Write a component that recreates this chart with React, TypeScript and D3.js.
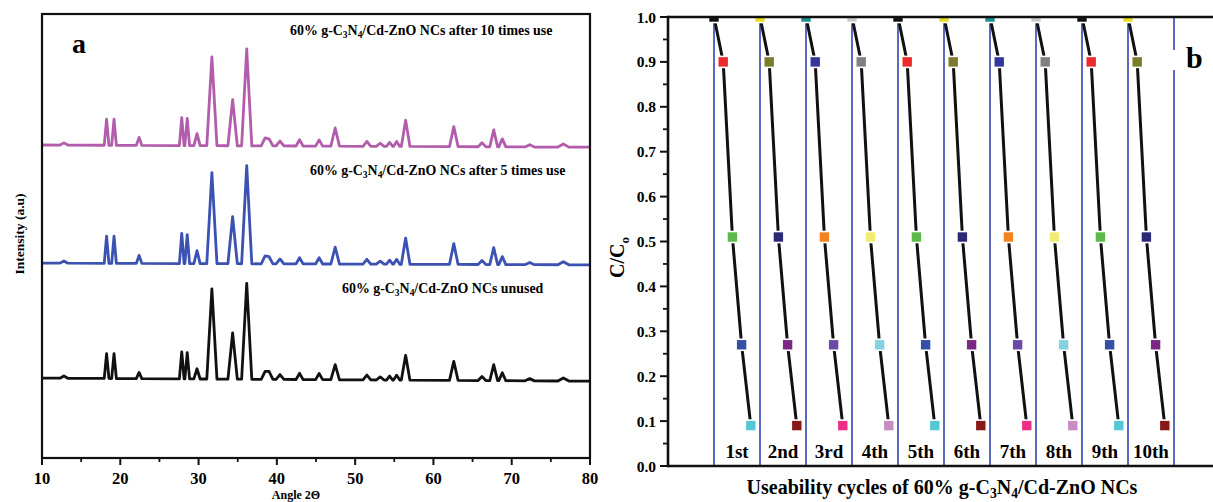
import React from "react";
import * as d3 from "d3";

// ---------- Panel a: XRD patterns ----------
const peakAngles = [12.8, 18.25, 19.2, 22.4, 27.85, 28.55, 29.8, 31.7, 34.35, 36.15, 38.5, 39.0, 40.4, 42.9, 45.4, 47.45, 51.5, 53.2, 54.4, 55.3, 56.45, 62.6, 66.2, 67.7, 68.8, 72.3, 76.6];
const peakHalfWidths = [0.5, 0.3, 0.3, 0.35, 0.3, 0.3, 0.4, 0.65, 0.6, 0.65, 0.5, 0.5, 0.5, 0.45, 0.45, 0.55, 0.5, 0.5, 0.4, 0.4, 0.55, 0.55, 0.5, 0.5, 0.45, 0.6, 0.7];
const unusedHeights = [5, 56, 56, 14, 61, 59, 23, 203, 104, 216, 18, 18, 11, 14, 14, 34, 11, 7, 9, 11, 56, 43, 9, 36, 18, 5, 7];
const after5Heights = [5, 61, 61, 18, 68, 65, 29, 205, 106, 221, 18, 16, 11, 14, 14, 38, 11, 7, 9, 11, 59, 47, 9, 38, 18, 5, 7];
const after10Heights = [5, 59, 59, 18, 63, 61, 27, 200, 104, 218, 18, 16, 11, 14, 14, 41, 11, 7, 9, 11, 59, 45, 9, 38, 18, 5, 7];
const unusedBaseline = [180, 173];
const after5Baseline = [439, 435];
const after10Baseline = [705, 700];
const angleTicks = [10, 20, 30, 40, 50, 60, 70, 80];
const angleMinorTicks = [15, 25, 35, 45, 55, 65, 75];

// ---------- Panel b: reusability cycles ----------
const cycleLabels = ["1st", "2nd", "3rd", "4th", "5th", "6th", "7th", "8th", "9th", "10th"];
const cycleValues = [
  [1.0, 0.9, 0.51, 0.27, 0.09],
  [1.0, 0.9, 0.51, 0.27, 0.09],
  [1.0, 0.9, 0.51, 0.27, 0.09],
  [1.0, 0.9, 0.51, 0.27, 0.09],
  [1.0, 0.9, 0.51, 0.27, 0.09],
  [1.0, 0.9, 0.51, 0.27, 0.09],
  [1.0, 0.9, 0.51, 0.27, 0.09],
  [1.0, 0.9, 0.51, 0.27, 0.09],
  [1.0, 0.9, 0.51, 0.27, 0.09],
  [1.0, 0.9, 0.51, 0.27, 0.09],
];
const paletteA = ["#111111", "#ec2a2a", "#5cb848", "#3650a8", "#55c8d8"];
const paletteB = ["#e6df22", "#7b7b2c", "#2b2a78", "#7c2886", "#861818"];
const paletteC = ["#19908e", "#33359c", "#f4821f", "#6a4aa6", "#ec2e86"];
const paletteD = ["#c9c9c9", "#808080", "#f2ec76", "#82d2e2", "#c98cc2"];
const cycleColors = [paletteA, paletteB, paletteC, paletteD, paletteA, paletteB, paletteC, paletteD, paletteA, paletteB];
const ratioTicks = [0, 0.1, 0.2, 0.3, 0.4, 0.5, 0.6, 0.7, 0.8, 0.9, 1.0];
const ratioMinorTicks = [0.05, 0.15, 0.25, 0.35, 0.45, 0.55, 0.65, 0.75, 0.85, 0.95];

const FONT = "'Liberation Serif', 'Times New Roman', serif";

function buildTrace(heights: number[], base: number[]) {
  const xsSet = new Set<number>([10, 80]);
  peakAngles.forEach((p, i) => {
    xsSet.add(p - peakHalfWidths[i]);
    xsSet.add(p);
    xsSet.add(p + peakHalfWidths[i]);
  });
  const xs = Array.from(xsSet).sort((a, b) => a - b);
  return xs.map((x) => {
    let y = base[0] + ((base[1] - base[0]) * (x - 10)) / 70;
    peakAngles.forEach((p, i) => {
      const w = peakHalfWidths[i];
      const t = 1 - Math.abs(x - p) / w;
      if (t > 0) y += heights[i] * t;
    });
    return [x, y] as [number, number];
  });
}

function Formula({ size }: { size: number }) {
  const sub = size * 0.68;
  return (
    <>
      <tspan>60% g-C</tspan>
      <tspan fontSize={sub} dy={size * 0.22}>3</tspan>
      <tspan dy={-size * 0.22}>N</tspan>
      <tspan fontSize={sub} dy={size * 0.22}>4</tspan>
      <tspan dy={-size * 0.22}>/Cd-ZnO NCs</tspan>
    </>
  );
}

export default function App() {
  // Panel a scales
  const xA = d3.scaleLinear().domain([10, 80]).range([42, 590]);
  const yA = d3.scaleLinear().domain([0, 1000]).range([458, 14]);
  const lineA = d3
    .line<[number, number]>()
    .x((d) => xA(d[0]))
    .y((d) => yA(d[1]));
  const traces = [
    { pts: buildTrace(unusedHeights, unusedBaseline), color: "#111111" },
    { pts: buildTrace(after5Heights, after5Baseline), color: "#3b52b2" },
    { pts: buildTrace(after10Heights, after10Baseline), color: "#b25cac" },
  ];

  // Panel b scales
  const xB = d3.scaleLinear().domain([-5, 55]).range([668, 1220]);
  const yB = d3.scaleLinear().domain([0, 1]).range([466, 17]);
  const lineB = d3
    .line<[number, number]>()
    .x((d) => xB(d[0]))
    .y((d) => yB(d[1]));
  const boundaries = d3.range(0, 51, 5);
  const ms = 11;

  return (
    <svg
      width={1213}
      height={502}
      style={{ position: "absolute", left: 0, top: 0, background: "#fff" }}
      fontFamily={FONT}
      fontWeight="bold"
    >
      <rect x={0} y={0} width={1213} height={502} fill="#fff" />
      <defs>
        <clipPath id="clipB">
          <rect x={668} y={17} width={560} height={449} />
        </clipPath>
        <clipPath id="clipA">
          <rect x={42} y={14} width={548} height={444} />
        </clipPath>
      </defs>

      {/* ---------------- Panel a ---------------- */}
      <g clipPath="url(#clipA)">
        {traces.map((t, i) => (
          <path key={i} d={lineA(t.pts) || ""} fill="none" stroke={t.color} strokeWidth={2.8} strokeLinejoin="round" />
        ))}
      </g>
      <rect x={xA(10)} y={yA(1000)} width={xA(80) - xA(10)} height={yA(0) - yA(1000)} fill="none" stroke="#111" strokeWidth={2.2} />
      {angleTicks.map((t) => (
        <g key={"ma" + t}>
          <line x1={xA(t)} x2={xA(t)} y1={458} y2={465} stroke="#111" strokeWidth={2} />
          <text x={xA(t)} y={484} textAnchor="middle" fontSize={16.5}>{t}</text>
        </g>
      ))}
      {angleMinorTicks.map((t) => (
        <line key={"mi" + t} x1={xA(t)} x2={xA(t)} y1={458} y2={462} stroke="#111" strokeWidth={1.8} />
      ))}
      <text x={296} y={499} textAnchor="middle" fontSize={12}>Angle 2Θ</text>
      <text transform="translate(24,234) rotate(-90)" textAnchor="middle" fontSize={13.5}>Intensity (a.u)</text>
      <text x={72} y={53} fontSize={28}>a</text>
      <text x={290} y={35} fontSize={13.9}>
        <Formula size={13.9} />
        <tspan> after 10 times use</tspan>
      </text>
      <text x={310} y={175} fontSize={13.9}>
        <Formula size={13.9} />
        <tspan> after 5 times use</tspan>
      </text>
      <text x={342} y={293} fontSize={13.9}>
        <Formula size={13.9} />
        <tspan> unused</tspan>
      </text>

      {/* ---------------- Panel b ---------------- */}
      {boundaries.map((b) => (
        <line key={"bd" + b} x1={xB(b)} x2={xB(b)} y1={17} y2={466} stroke="#4a5ab8" strokeWidth={1.8} />
      ))}
      <rect x={1170} y={50} width={43} height={20} fill="#fff" />
      <text x={1186} y={68} fontSize={30}>b</text>
      <g clipPath="url(#clipB)">
        {cycleValues.map((vals, c) => {
          const pts = vals.map((v, j) => [c * 5 + j, v] as [number, number]);
          return (
            <g key={"cy" + c}>
              <path d={lineB(pts) || ""} fill="none" stroke="#111" strokeWidth={3} />
              {pts.map((p, j) => (
                <rect
                  key={j}
                  x={xB(p[0]) - ms / 2}
                  y={yB(p[1]) - ms / 2}
                  width={ms}
                  height={ms}
                  fill={cycleColors[c][j]}
                  stroke="#fff"
                  strokeWidth={1.6}
                />
              ))}
            </g>
          );
        })}
      </g>
      {cycleLabels.map((l, c) => (
        <text key={l} x={xB(c * 5 + 2.5)} y={458} textAnchor="middle" fontSize={19}>{l}</text>
      ))}
      {/* axes */}
      <line x1={668} x2={1213} y1={17} y2={17} stroke="#111" strokeWidth={2.6} />
      <line x1={668} x2={1213} y1={466} y2={466} stroke="#111" strokeWidth={2.6} />
      <line x1={668} x2={668} y1={15.7} y2={467.3} stroke="#111" strokeWidth={2.6} />
      {ratioTicks.map((t) => (
        <g key={"rt" + t}>
          <line x1={660} x2={668} y1={yB(t)} y2={yB(t)} stroke="#111" strokeWidth={2} />
          <text x={656} y={yB(t) + 5.5} textAnchor="end" fontSize={15.5}>{d3.format(".1f")(t)}</text>
        </g>
      ))}
      {ratioMinorTicks.map((t) => (
        <line key={"rm" + t} x1={663} x2={668} y1={yB(t)} y2={yB(t)} stroke="#111" strokeWidth={1.8} />
      ))}
      <text transform="translate(624,278) rotate(-90)" fontSize={20}>
        <tspan>C/C</tspan>
        <tspan fontSize={13} dy={5}>o</tspan>
      </text>
      <text x={942} y={494} textAnchor="middle" fontSize={20}>
        <tspan>Useability cycles of </tspan>
        <Formula size={20} />
      </text>
    </svg>
  );
}
